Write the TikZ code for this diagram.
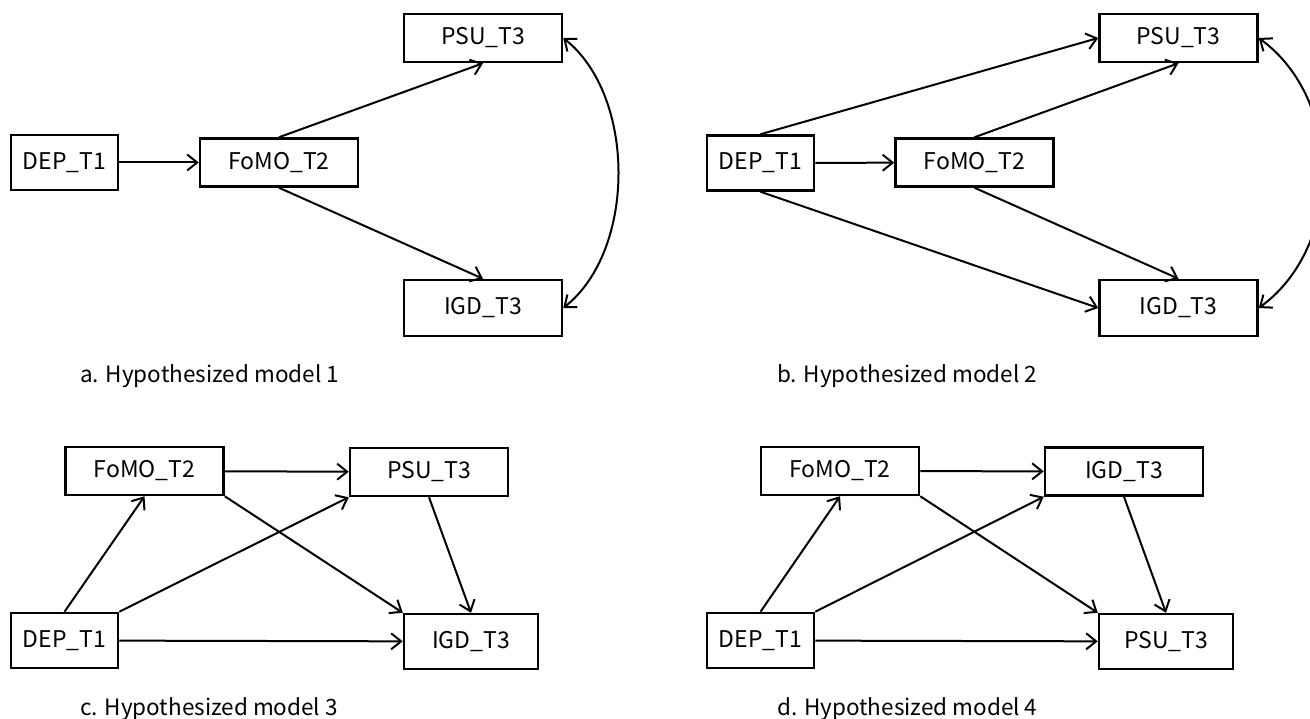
\documentclass[tikz,border=0pt]{standalone}
\usepackage{fontspec}
\setmainfont{Noto Sans CJK SC}
\usetikzlibrary{arrows.meta}
\begin{document}
\begin{tikzpicture}[x=1pt,y=-1pt,
  box/.style={draw, line width=2.5pt, inner sep=0pt, font=\fontsize{23}{27}\selectfont},
  depbox/.style={box, minimum width=107pt, minimum height=55pt},
  widebox/.style={box, minimum width=158pt, minimum height=48pt},
  tallbox/.style={box, minimum width=158pt, minimum height=56pt},
  midbox/.style={box, minimum width=134pt, minimum height=55pt},
  link/.style={draw, line width=2pt, -{Straight Barb[length=10pt,width=16pt,line width=2pt]}},
  covar/.style={draw, line width=2pt, {Straight Barb[length=10pt,width=16pt,line width=2pt]}-{Straight Barb[length=10pt,width=16pt,line width=2pt]}},
  captxt/.style={anchor=base west, inner sep=0pt, font=\fontsize{22.5}{27}\selectfont}
]
\useasboundingbox (0,0) rectangle (1310,719);
\clip (0,0) rectangle (1310,719);

% model 1
\node[depbox]  (aDEP)  at (64.5,162.5) {DEP\_T1};
\node[widebox] (aFoMO) at (279,162.5)  {FoMO\_T2};
\node[widebox] (aPSU)  at (483,38)     {PSU\_T3};
\node[tallbox] (aIGD)  at (483,308)    {IGD\_T3};
\draw[link] (aDEP) -- (aFoMO);
\draw[link] (aFoMO.north) -- (aPSU.south);
\draw[link] (aFoMO.south) -- (aIGD.north);
\draw[covar] (aPSU.east) .. controls +(73,58) and +(73,-58) .. (aIGD.east);
\node[captxt] (acap) at (80,383) {a. Hypothesized model 1};

% model 2
\node[depbox]  (bDEP)  at (760.5,163)  {DEP\_T1};
\node[widebox] (bFoMO) at (974.5,162.5) {FoMO\_T2};
\node[widebox] (bPSU)  at (1178.5,38)  {PSU\_T3};
\node[tallbox] (bIGD)  at (1178.5,308) {IGD\_T3};
\draw[link] (bDEP) -- (bFoMO);
\draw[link] (bDEP.north) -- (bPSU.west);
\draw[link] (bDEP.south) -- (bIGD.west);
\draw[link] (bFoMO.north) -- (bPSU.south);
\draw[link] (bFoMO.south) -- (bIGD.north);
\draw[covar] (bPSU.east) .. controls +(85,62) and +(85,-62) .. (bIGD.east);
\node[captxt] (bcap) at (777,383) {b. Hypothesized model 2};

% model 3
\node[widebox] (cFoMO) at (144.5,471)  {FoMO\_T2};
\node[widebox] (cPSU)  at (429,472)    {PSU\_T3};
\node[depbox]  (cDEP)  at (64.5,640.5) {DEP\_T1};
\node[midbox]  (cIGD)  at (471,641.5)  {IGD\_T3};
\draw[link] (cFoMO) -- (cPSU);
\draw[link] (cDEP.north) -- (cFoMO.south);
\draw[link] (cDEP.north east) -- (cPSU.south west);
\draw[link] (cFoMO.south east) -- (cIGD.north west);
\draw[link] (cPSU.south) -- (cIGD.north);
\draw[link] (cDEP) -- (cIGD);
\node[captxt] (ccap) at (80,715) {c. Hypothesized model 3};

% model 4
\node[widebox] (dFoMO) at (840,471)    {FoMO\_T2};
\node[widebox] (dIGD)  at (1124,471.5) {IGD\_T3};
\node[depbox]  (dDEP)  at (760.5,640.5) {DEP\_T1};
\node[midbox]  (dPSU)  at (1166,641.5) {PSU\_T3};
\draw[link] (dFoMO) -- (dIGD);
\draw[link] (dDEP.north) -- (dFoMO.south);
\draw[link] (dDEP.north east) -- (dIGD.south west);
\draw[link] (dFoMO.south east) -- (dPSU.north west);
\draw[link] (dIGD.south) -- (dPSU.north);
\draw[link] (dDEP) -- (dPSU);
\node[captxt] (dcap) at (777,715) {d. Hypothesized model 4};
\end{tikzpicture}
\end{document}
